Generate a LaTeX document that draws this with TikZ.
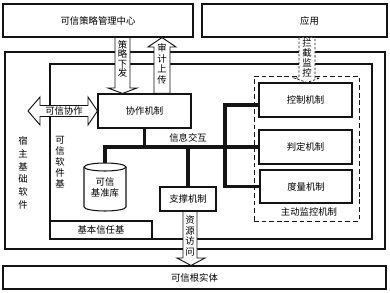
\documentclass[tikz,border=0pt]{standalone}
\usepackage{fontspec}
\setmainfont{Noto Sans CJK SC}
\usepackage{tikz}
\usetikzlibrary{calc}
\definecolor{mydark}{RGB}{20,20,20}
\tikzset{
  box/.style={rectangle, draw=mydark, fill=white, line width=0.9pt,
    align=center, inner sep=0pt, font=\fontsize{8}{9.6}\selectfont},
  frame/.style={rectangle, draw=mydark, line width=1pt, inner sep=0pt},
  monitor/.style={rectangle, draw=mydark, line width=0.8pt,
    dash pattern=on 4pt off 2.5pt, inner sep=0pt},
  bus/.style={line width=2.6pt, color=mydark},
  fatarrow/.style={draw=mydark, fill=white, line width=0.8pt, line join=miter},
  vlabel/.style={align=center, inner sep=0pt},
  label/.style={inner sep=0pt, font=\fontsize{8}{9.6}\selectfont}
}

\begin{document}
\begin{tikzpicture}[x=0.03cm, y=-0.03cm]
  \useasboundingbox (0,0) rectangle (390,293);

  % ── Outer frames ────────────────────────────────────────────────────────────
  \node[frame, minimum width=11.4cm, minimum height=5.91cm] (host) at (195,150.5) {};
  \node[frame, minimum width=9.66cm, minimum height=5.25cm] (tsb) at (211,151.5) {};
  \node[monitor, minimum width=3.15cm, minimum height=4.35cm] (monitor) at (306.5,148.5) {};

  % ── Boxes ───────────────────────────────────────────────────────────────────
  \node[box, minimum width=5.7cm, minimum height=0.99cm] (policy) at (98,20.5) {可信策略管理中心};
  \node[box, minimum width=5.55cm, minimum height=0.99cm] (app) at (294.5,20.5) {\hspace{0.9cm}应用};
  \node[box, minimum width=11.49cm, minimum height=0.69cm] (root) at (194.5,277.5) {可信根实体};
  \node[box, minimum width=3.06cm, minimum height=0.54cm] (basic) at (101,230) {基本信任基};
  \node[box, minimum width=2.79cm, minimum height=1.02cm] (coop) at (144.5,111) {协作机制};
  \node[box, minimum width=1.68cm, minimum height=0.72cm] (support) at (188,199) {支撑机制};
  \node[box, minimum width=2.79cm, minimum height=1.02cm] (ctrl) at (305.5,100) {控制机制};
  \node[box, minimum width=2.79cm, minimum height=1.02cm] (judge) at (305.5,147) {判定机制};
  \node[box, minimum width=2.76cm, minimum height=0.99cm] (measure) at (306,186.5) {度量机制};

  % ── Database cylinder ───────────────────────────────────────────────────────
  \draw[line width=0.9pt, draw=mydark, fill=white] (84,167) -- (84,207)
    arc[start angle=180, end angle=360, x radius=0.63cm, y radius=0.12cm] -- (126,167);
  \draw[line width=0.9pt, draw=mydark, fill=white] (105,167) ellipse[x radius=0.63cm, y radius=0.12cm];
  \coordinate (dbtop) at (105,163);
  \node[vlabel, font=\fontsize{8}{9.4}\selectfont] (db) at (105,187.5) {可信\\基准库};

  % ── Information bus ─────────────────────────────────────────────────────────
  \draw[bus] (dbtop) -- (dbtop |- judge.west) -- (judge.west);
  \draw[bus] (coop) -- (coop |- judge.west);
  \draw[bus] (support) -- (support |- judge.west);
  \draw[bus] ($(ctrl.west)+(0,5)$) -- (225,105) -- (225,0 |- measure.west) -- (measure.west);

  % ── Fat arrows ──────────────────────────────────────────────────────────────
  % policy down
  \draw[fatarrow] (115,0 |- policy.south) -- (115,88) -- (108,88) -- (122.5,0 |- coop.north)
    -- (137,88) -- (130,88) -- (130,0 |- policy.south) -- cycle;
  % audit up
  \draw[fatarrow] (154,0 |- coop.north) -- (154,47) -- (148,47) -- (162,0 |- policy.south)
    -- (176,47) -- (170,47) -- (170,0 |- coop.north) -- cycle;
  % intercept (dashed)
  \draw[fatarrow, line width=0.6pt, dash pattern=on 2pt off 1.5pt]
    (299,0 |- app.south) -- (299,78) -- (294,78) -- (307,0 |- ctrl.north)
    -- (320,78) -- (315,78) -- (315,0 |- app.south) -- cycle;
  % resource access
  \draw[fatarrow] (183,0 |- support.south) -- (183,258) -- (177,258) -- (191,0 |- root.north)
    -- (205,258) -- (197,258) -- (197,0 |- support.south) -- cycle;
  % peer cooperation (double)
  \coordinate (peer) at (28,111);
  \draw[fatarrow] (peer) -- (40,97) -- (40,105.5) -- (88,105.5) -- (88,97) -- (coop.west)
    -- (88,125) -- (88,116.5) -- (40,116.5) -- (40,125) -- cycle;

  % ── Labels ──────────────────────────────────────────────────────────────────
  \node[vlabel, font=\fontsize{8}{8.2}\selectfont] (lblpolicy) at (122.5,59) {策\\略\\下\\发};
  \node[vlabel, font=\fontsize{8}{9.1}\selectfont] (lblaudit) at (162,64) {审\\计\\上\\传};
  \node[vlabel, font=\fontsize{8}{8.5}\selectfont] (lblhook) at (307,58) {拦\\截\\监\\控};
  \node[vlabel, font=\fontsize{8}{9.1}\selectfont] (lblres) at (190,236) {资\\源\\访\\问};
  \node[label] (lblpeer) at (64,111) {可信协作};
  \node[vlabel, font=\fontsize{8}{10.9}\selectfont] (lblhost) at (23,173) {宿\\主\\基\\础\\软\\件};
  \node[vlabel, font=\fontsize{8}{9.4}\selectfont] (lbltsb) at (60,162) {可\\信\\软\\件\\基};
  \node[label] (lblinfo) at (188,138) {信息交互};
  \node[label] (lblmon) at (309,212) {主动监控机制};
\end{tikzpicture}
\end{document}
